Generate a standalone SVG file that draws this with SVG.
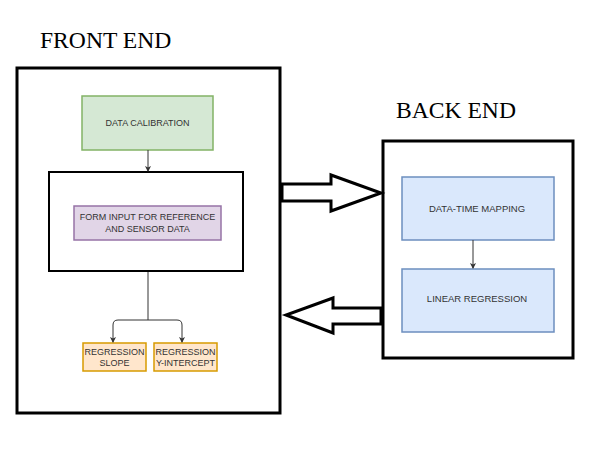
<svg xmlns="http://www.w3.org/2000/svg" width="591" height="458" viewBox="0 0 591 458">
<style>
.title{font-family:"Liberation Serif",serif;font-size:23.6px;fill:#000}
.lbl{font-family:"Liberation Sans",Arial,sans-serif;font-size:9px;fill:#333;text-anchor:middle}
.lbl2{font-family:"Liberation Sans",Arial,sans-serif;font-size:9.5px;fill:#333;text-anchor:middle}
.frame{fill:#fff;stroke:#000;stroke-width:3}
.inner{fill:#fff;stroke:#000;stroke-width:2}
.green{fill:#d5e8d4;stroke:#82b366;stroke-width:1.5}
.purple{fill:#e1d5e7;stroke:#9673a6;stroke-width:1.5}
.orange{fill:#ffe6cc;stroke:#d79b00;stroke-width:1.5}
.blue{fill:#dae8fc;stroke:#6c8ebf;stroke-width:1.5}
.conn{fill:none;stroke:#333;stroke-width:1}
.big{fill:#fff;stroke:#000;stroke-width:3;stroke-linejoin:miter}
</style>
<defs>
<marker id="ah" markerWidth="6" markerHeight="6" refX="5" refY="3" orient="auto" markerUnits="userSpaceOnUse">
<path d="M0,0 L6,3 L0,6 L1.5,3 Z" fill="#333"/>
</marker>
</defs>
<rect width="591" height="458" fill="#fff"/>
<text class="title" x="40" y="48">FRONT END</text>
<text class="title" x="396" y="118">BACK END</text>
<g id="front-end"><rect class="frame" x="17" y="68" width="263" height="345"/></g>
<g id="back-end"><rect class="frame" x="383" y="141" width="190" height="217"/></g>
<g id="form-container"><rect class="inner" x="49" y="172" width="194" height="99"/></g>
<g id="data-calibration">
<rect class="green" x="82" y="96" width="131" height="54"/>
<text class="lbl" x="147.5" y="126">DATA CALIBRATION</text>
</g>
<g id="form-input">
<rect class="purple" x="74" y="206" width="147" height="34"/>
<text class="lbl" x="147.5" y="220">FORM INPUT FOR REFERENCE</text>
<text class="lbl" x="147.5" y="232">AND SENSOR DATA</text>
</g>
<g id="regression-slope">
<rect class="orange" x="83" y="343" width="63" height="28"/>
<text class="lbl" x="114.5" y="355">REGRESSION</text>
<text class="lbl" x="114.5" y="366">SLOPE</text>
</g>
<g id="regression-intercept">
<rect class="orange" x="154" y="343" width="63" height="28"/>
<text class="lbl" x="185.5" y="355">REGRESSION</text>
<text class="lbl" x="185.5" y="366">Y-INTERCEPT</text>
</g>
<g id="data-time-mapping">
<rect class="blue" x="402" y="177" width="152" height="63"/>
<text class="lbl2" x="477" y="212">DATA-TIME MAPPING</text>
</g>
<g id="linear-regression">
<rect class="blue" x="402" y="269" width="152" height="63"/>
<text class="lbl2" x="477" y="302">LINEAR REGRESSION</text>
</g>
<g id="connectors">
<line class="conn" x1="148" y1="150" x2="148" y2="171" marker-end="url(#ah)"/>
<path class="conn" d="M148,272 L148,320"/>
<path class="conn" d="M148,320 L118,320 Q113,320 113,325 L113,342" marker-end="url(#ah)"/>
<path class="conn" d="M148,320 L177,320 Q182,320 182,325 L182,342" marker-end="url(#ah)"/>
<line class="conn" x1="473" y1="240" x2="473" y2="268" marker-end="url(#ah)"/>
<path class="big" d="M282,184 L331,184 L331,175 L381,193 L331,211 L331,201 L282,201 Z"/>
<path class="big" d="M381,308 L333,308 L333,298 L286,315 L333,333 L333,324 L381,324 Z"/>
</g>
</svg>
